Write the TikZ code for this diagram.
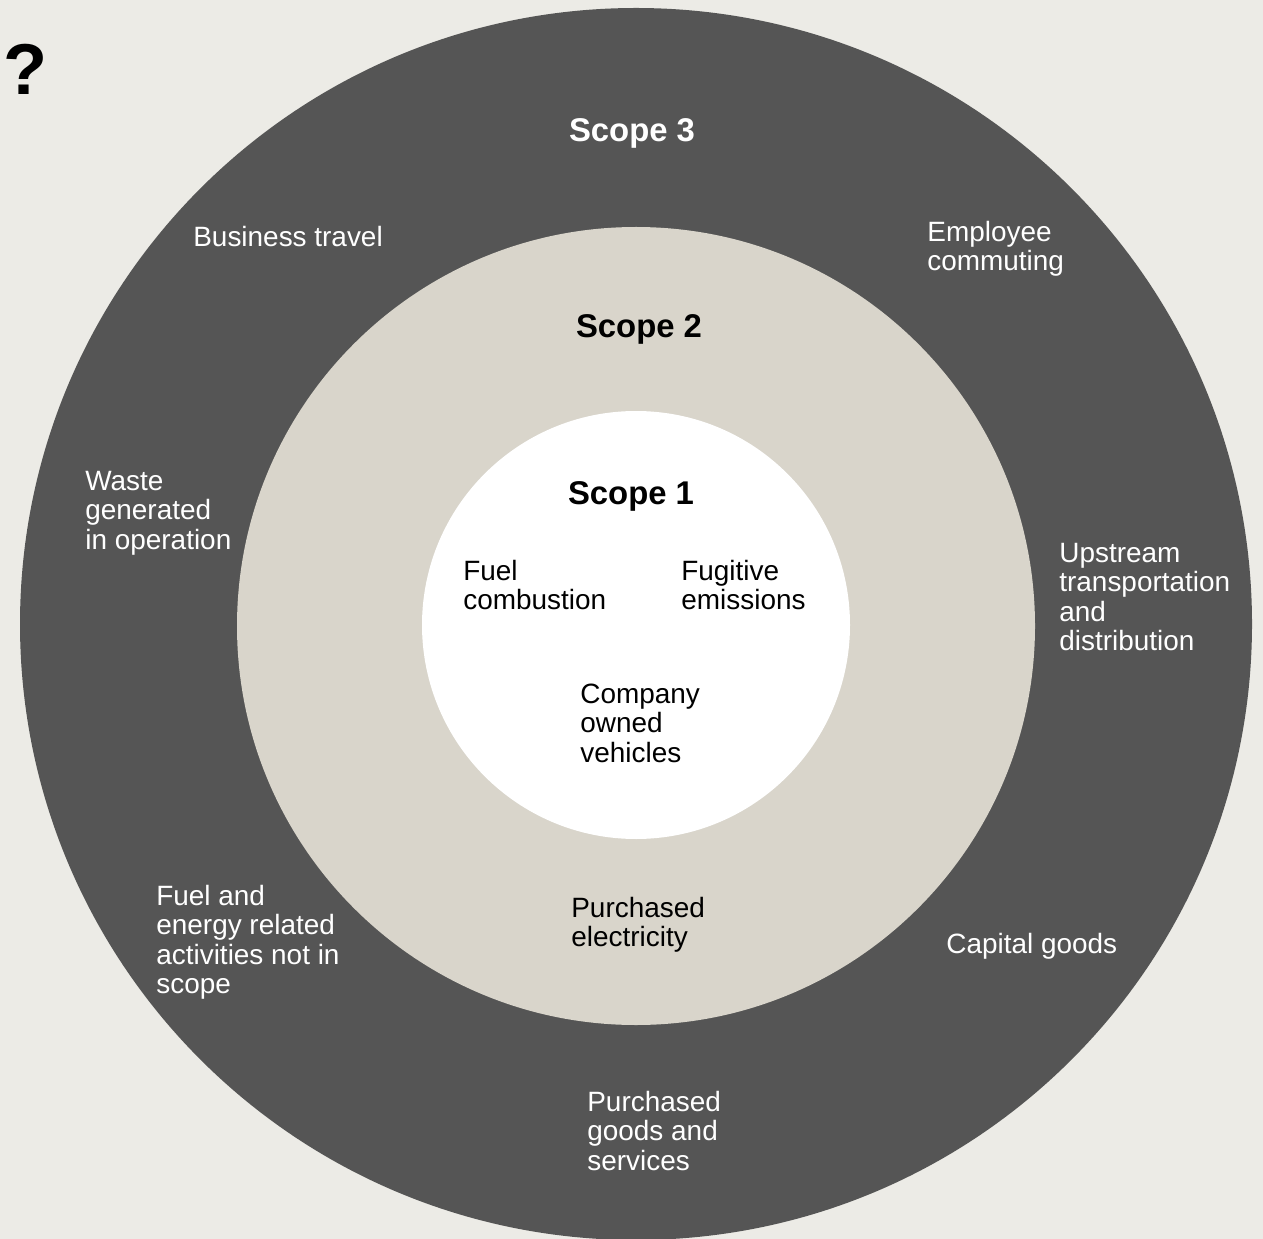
\documentclass[tikz,border=0pt]{standalone}
\usepackage{fontspec}
\setmainfont{Liberation Sans}
\usepackage{tikz}
\usetikzlibrary{positioning}
\definecolor{bgcol}{RGB}{236,235,230}
\definecolor{scopethree}{RGB}{85,85,85}
\definecolor{scopetwo}{RGB}{217,213,203}
\tikzstyle{ring3} = [fill=scopethree]
\tikzstyle{ring2} = [fill=scopetwo]
\tikzstyle{ring1} = [fill=white]
\tikzstyle{heading} = [font=\fontsize{18.7}{20}\selectfont\bfseries, inner sep=0pt, anchor=base]
\tikzstyle{item} = [font=\fontsize{15.9}{16.7}\selectfont, align=left, inner sep=0pt, anchor=base west]
\tikzstyle{ondark} = [item, text=white]
\tikzstyle{onlight} = [item, text=black]

\begin{document}
\begin{tikzpicture}[x=0.02cm, y=-0.02cm]
    \useasboundingbox (0,0) rectangle (1263,1239);
    \fill[bgcol] (0,0) rectangle (1263,1239);

    % the three scopes
    \fill[ring3] (636,624) circle (616);
    \fill[ring2] (636,626) circle (399);
    \fill[ring1] (636,625) circle (214);

    \node[font=\fontsize{41}{45}\selectfont\bfseries, anchor=base west, inner sep=0pt] (question) at (3,95) {?};

    \node[heading, text=white] (scope3) at (632,142) {Scope 3};
    \node[heading] (scope2) at (639,338) {Scope 2};
    \node[heading] (scope1) at (631,504) {Scope 1};

    % scope 3 (anchored on the last line)
    \node[ondark] (travel) at (193,247) {Business travel};
    \node[ondark] (commuting) at (927,270.5) {Employee\\commuting};
    \node[ondark] (waste) at (85,549) {Waste\\generated\\in operation};
    \node[ondark] (upstream) at (1059,650.5) {Upstream\\transportation\\and\\distribution};
    \node[ondark] (fuelenergy) at (156,993.5) {Fuel and\\energy related\\activities not in\\scope};
    \node[ondark] (capital) at (946,953) {Capital goods};
    \node[ondark] (goods) at (587,1170) {Purchased\\goods and\\services};

    % scope 2
    \node[onlight] (electricity) at (571,946.5) {Purchased\\electricity};

    % scope 1
    \node[onlight] (combustion) at (463,609.5) {Fuel\\combustion};
    \node[onlight] (fugitive) at (681,609.5) {Fugitive\\emissions};
    \node[onlight] (vehicles) at (580,762) {Company\\owned\\vehicles};
\end{tikzpicture}
\end{document}
